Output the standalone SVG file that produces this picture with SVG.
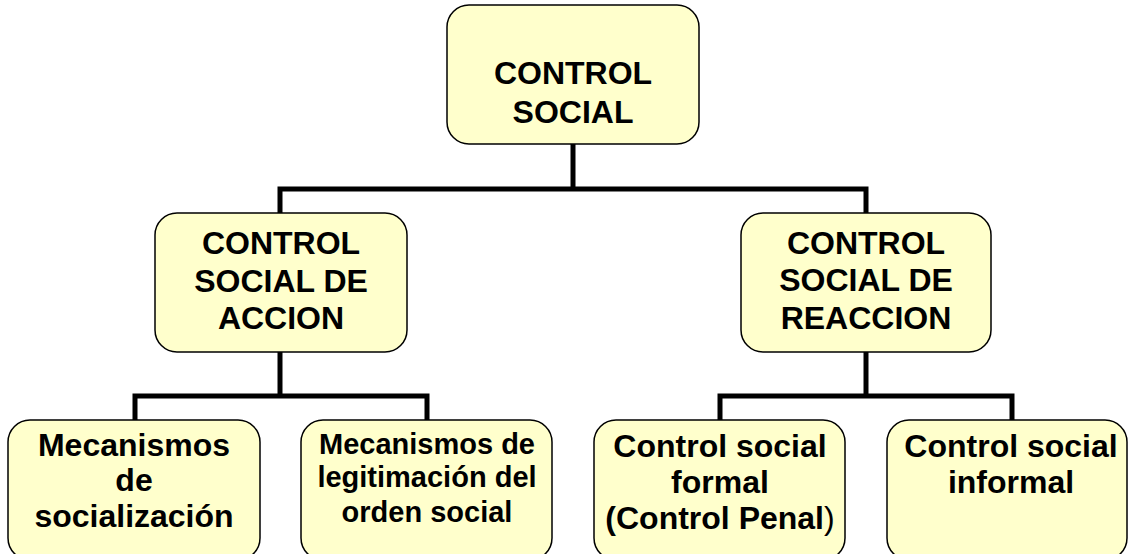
<svg xmlns="http://www.w3.org/2000/svg" width="1129" height="554" viewBox="0 0 1129 554">
<style>
.box{fill:#FFFFCC;stroke:#000;stroke-width:1.5}
.t{font-family:"Liberation Sans",Arial,sans-serif;font-weight:bold;font-size:32px;fill:#000;text-anchor:middle}
.s{font-size:29px}
.c{fill:none;stroke:#000;stroke-width:5;stroke-linecap:butt;stroke-linejoin:miter}
</style>
<rect width="1129" height="554" fill="#fff"/>
<g id="connectors">
<polyline class="c" points="573,144 573,189"/>
<polyline class="c" points="280,213 280,189 866,189 866,213"/>
<polyline class="c" points="280,352 280,396"/>
<polyline class="c" points="135,420 135,396 427,396 427,420"/>
<polyline class="c" points="866,352 866,396"/>
<polyline class="c" points="720,420 720,396 1012,396 1012,420"/>
</g>
<g id="control-social">
<rect class="box" x="447" y="5" width="252" height="139" rx="22"/>
<text class="t" x="573" y="84">CONTROL</text>
<text class="t" x="573" y="123">SOCIAL</text>
</g>
<g id="accion">
<rect class="box" x="155" y="213" width="252" height="139" rx="22"/>
<text class="t" x="281" y="254">CONTROL</text>
<text class="t" x="281" y="292">SOCIAL DE</text>
<text class="t" x="281" y="329">ACCION</text>
</g>
<g id="reaccion">
<rect class="box" x="741" y="213" width="250" height="139" rx="22"/>
<text class="t" x="866" y="254">CONTROL</text>
<text class="t" x="866" y="291">SOCIAL DE</text>
<text class="t" x="866" y="329">REACCION</text>
</g>
<g id="socializacion">
<rect class="box" x="8" y="420" width="252" height="140" rx="22"/>
<text class="t" x="134" y="456">Mecanismos</text>
<text class="t" x="134" y="491">de</text>
<text class="t" x="134" y="527">socialización</text>
</g>
<g id="legitimacion">
<rect class="box" x="301" y="420" width="251" height="140" rx="22"/>
<text class="t s" x="427" y="454">Mecanismos de</text>
<text class="t s" x="427" y="487">legitimación del</text>
<text class="t s" x="427" y="522">orden social</text>
</g>
<g id="formal">
<rect class="box" x="594" y="420" width="251" height="140" rx="22"/>
<text class="t" x="720" y="457">Control social</text>
<text class="t" x="720" y="493">formal</text>
<text class="t" x="720" y="529">(Control Penal<tspan font-weight="normal">)</tspan></text>
</g>
<g id="informal">
<rect class="box" x="887" y="420" width="240" height="140" rx="22"/>
<text class="t" x="1011" y="457">Control social</text>
<text class="t" x="1011" y="493">informal</text>
</g>
</svg>
